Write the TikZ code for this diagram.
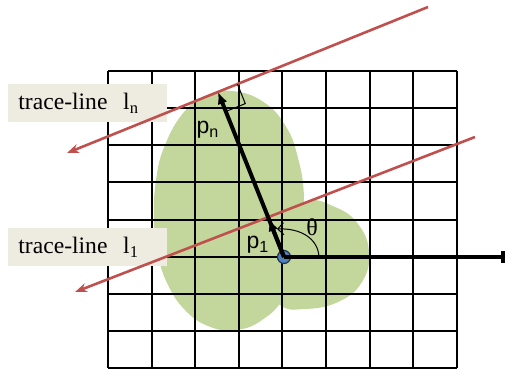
\documentclass[tikz,border=0pt]{standalone}
\usepackage{fontspec}
\setmainfont{Liberation Serif}
\newfontfamily\vecfont{Liberation Sans}
\usetikzlibrary{positioning,arrows.meta,calc}
\definecolor{traceRed}{HTML}{C0504D}
\definecolor{blobGreen}{HTML}{C3D69B}
\definecolor{boxBeige}{HTML}{EEECE1}
\definecolor{originBlue}{HTML}{4F81BD}

\begin{document}
\begin{tikzpicture}[x=0.5pt,y=-0.5pt,
    traceline/.style={draw=traceRed,line width=1.3pt,-{Stealth[length=6pt,width=4.5pt]}},
    tracelabel/.style={fill=boxBeige,anchor=north west,minimum height=19pt,inner xsep=5pt,
      text width=69.5pt,align=left,font=\fontsize{11.8}{13}\selectfont},
    ray/.style={line width=2pt,-{Latex[length=6pt,width=5pt]}},
    vlabel/.style={font=\vecfont\fontsize{11.5}{13}\selectfont}]
  \useasboundingbox (0,0) rectangle (506,369);
  % region
  \fill[blobGreen] plot[smooth cycle,tension=0.75] coordinates {
    (232,91) (262,101) (285,125) (298,158) (304,200) (300,250) (285,295)
    (262,320) (235,330) (208,326) (185,310) (168,285) (158,255) (154,220)
    (156,180) (165,145) (184,112) (207,95)};
  \fill[blobGreen] plot[smooth cycle,tension=0.75] coordinates {
    (306,202) (335,207) (358,224) (369,252) (362,282) (338,302) (305,309)
    (280,305) (270,280) (280,230)};
  % grid
  \foreach \i in {0,...,8} {
    \draw[line width=1pt] (108+43.6*\i,71) -- (108+43.6*\i,368.2);
    \draw[line width=1pt] (108,71+37.15*\i) -- (456.8,71+37.15*\i);
  }
  \node[tracelabel] (labn) at (8,84) {trace-line\ \ l\textsubscript{n}};
  \node[tracelabel] (lab1) at (8,228) {trace-line\ \ l\textsubscript{1}};
  % trace lines
  \coordinate (lnTop) at (428,7);
  \coordinate (lnEnd) at (67,153);
  \coordinate (l1Top) at (475,137);
  \coordinate (l1End) at (75,292);
  \draw[traceline] (lnTop) -- (lnEnd);
  \draw[traceline] (l1Top) -- (l1End);
  % origin and rays
  \node[circle,fill=originBlue,draw=black!60!originBlue,line width=0.6pt,
        minimum size=6.5pt,inner sep=0pt] (o) at (284,257) {};
  \coordinate (axEnd) at (505,257);
  \coordinate (pn) at (218,92);
  \coordinate (p1) at ($(o.center)!0.23!(pn)$);
  \draw[line width=2.2pt,-{Bar[width=6pt]}] (o.center) -- (axEnd);
  \draw[ray] (o.center) -- (pn);
  \draw[ray] (o.center) -- (p1);
  % right angle
  \coordinate (ra1) at ($(pn)!10.5pt!(lnTop)$);
  \coordinate (ra2) at ($(pn)!10.5pt!(o.center)$);
  \draw[line width=0.5pt] (ra1) -- ($(ra1)+(ra2)-(pn)$) -- (ra2);
  % angle
  \coordinate (thStart) at (319,257);
  \coordinate (thEnd) at (277,229);
  \draw[line width=0.5pt,-{Straight Barb[length=3pt]}] (thStart) .. controls (318,238) and (300,228) .. (thEnd);
  \node[vlabel] (pnlab) at (208,130) {p\textsubscript{n}};
  \node[vlabel] (p1lab) at (258,245) {p\textsubscript{1}};
  \node[font=\fontsize{12}{14}\selectfont] (theta) at (312,227) {θ};
\end{tikzpicture}
\end{document}
